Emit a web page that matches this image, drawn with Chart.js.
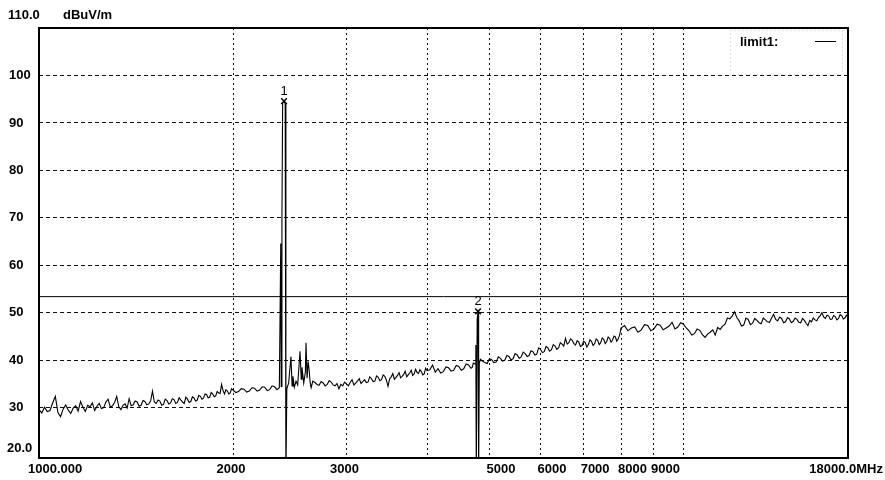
<!DOCTYPE html>
<html>
<head>
<meta charset="utf-8">
<script src="https://cdn.jsdelivr.net/npm/chart.js@4"></script>
<style>
html,body{margin:0;padding:0;background:#fff;}
#wrap{width:885px;height:480px;}
</style>
</head>
<body>
<div id="wrap"><canvas id="c" width="885" height="480"></canvas></div>
<script>
// ---- DATA ----
const unitLabel = "dBuV/m";
const yTickValues = [30, 40, 50, 60, 70, 80, 90, 100];
const yTopLabel = "110.0";
const yBottomLabel = "20.0";
const xGridValues = [2000, 3000, 4000, 5000, 6000, 7000, 8000, 9000, 10000];
const xTickValues = [2000, 3000, 5000, 6000, 7000, 8000, 9000];
const xStartLabel = "1000.000";
const xEndLabel = "18000.0";
const xUnit = "MHz";
const limitName = "limit1:";
const limitLevel = 53.4;
const markerNames = ["1", "2"];
const markerFreq = [2400, 4800];
const markerLevel = [94.6, 50.3];

// sweep 1000-2000 MHz  [freq MHz, level dBuV/m]
const sweepLow = [
 [1000,29.6],[1010,28.9],[1020,30.1],[1030,29.2],[1040,29.4],[1050,31.0],[1060,32.4],[1070,29.0],[1080,28.1],[1090,29.7],
 [1100,30.6],[1110,29.5],[1120,28.8],[1130,29.9],[1140,30.4],[1150,29.3],[1160,31.3],[1170,30.1],[1180,29.2],[1190,30.5],
 [1200,30.2],[1210,31.0],[1220,29.4],[1230,30.3],[1240,30.9],[1250,29.8],[1260,30.0],[1270,31.2],[1280,31.8],[1290,30.1],
 [1300,30.4],[1310,31.1],[1320,32.4],[1330,30.2],[1340,29.6],[1350,30.5],[1360,30.8],[1370,29.9],[1380,31.9],[1390,30.4],
 [1400,30.6],[1410,31.4],[1420,31.2],[1430,30.3],[1440,30.5],[1450,31.5],[1460,31.3],[1470,30.6],[1480,30.8],[1490,31.4],
 [1500,33.5],[1510,31.2],[1520,30.9],[1530,31.6],[1540,31.4],[1550,30.5],[1560,30.7],[1570,31.8],[1580,31.5],[1590,30.8],
 [1600,31.0],[1610,31.9],[1620,31.7],[1630,30.9],[1640,31.1],[1650,32.1],[1660,31.6],[1670,31.2],[1680,30.9],[1690,32.2],
 [1700,31.8],[1710,31.1],[1720,31.3],[1730,32.3],[1740,32.0],[1750,31.4],[1760,31.6],[1770,32.6],[1780,32.4],[1790,31.8],
 [1800,32.0],[1810,32.9],[1820,32.8],[1830,32.1],[1840,32.2],[1850,33.2],[1860,32.9],[1870,32.3],[1880,32.5],[1890,33.4],
 [1900,33.1],[1910,33.0],[1920,34.9],[1930,33.6],[1940,32.9],[1950,33.8],[1960,33.5],[1970,32.9],[1980,33.1],[1990,34.0],
 [2000,33.7]
];
// sweep 2000-4000 MHz (incl. 2.4 GHz carrier)
const sweepMid = [
 [2020,33.2],[2040,33.4],[2060,34.0],[2080,33.9],[2100,33.3],[2120,33.5],[2140,34.2],[2160,34.1],[2180,33.5],[2200,33.7],
 [2220,34.4],[2240,34.3],[2260,33.6],[2280,33.8],[2300,34.6],[2320,34.4],[2340,33.8],[2360,34.2],[2372,64.6],[2376,34.5],
 [2382,69.6],[2388,94.2],[2400,94.6],[2410,94.0],[2416,15.0],[2424,34.0],[2440,35.2],[2460,40.8],[2470,34.6],[2478,36.6],
 [2490,34.3],[2505,35.6],[2520,34.8],[2541,41.9],[2552,36.0],[2559,38.5],[2575,35.2],[2590,37.5],[2596,43.7],[2606,36.2],
 [2616,39.7],[2625,38.0],[2634,35.4],[2644,34.2],[2660,35.6],[2680,35.3],[2700,34.9],[2720,34.7],[2740,35.5],[2760,35.2],
 [2780,34.6],[2800,34.9],[2820,35.7],[2840,35.4],[2860,34.8],[2880,34.6],[2900,35.1],[2920,34.0],[2940,34.9],[2960,34.6],
 [2980,35.4],[3000,35.0],[3020,34.6],[3040,35.3],[3060,35.9],[3080,34.8],[3100,35.2],[3120,35.6],[3140,36.1],[3160,35.1],
 [3180,35.5],[3200,35.9],[3220,35.3],[3240,35.4],[3260,36.5],[3280,36.1],[3300,35.5],[3320,35.6],[3340,36.7],[3360,36.4],
 [3380,35.7],[3400,35.9],[3420,36.9],[3440,36.6],[3460,35.8],[3480,34.5],[3500,36.1],[3520,36.5],[3540,37.2],[3560,36.0],
 [3580,36.4],[3600,36.8],[3620,37.4],[3640,36.3],[3660,36.6],[3680,37.0],[3700,37.7],[3720,36.5],[3740,36.9],[3760,37.3],
 [3780,37.9],[3800,36.8],[3820,37.1],[3840,38.1],[3860,37.4],[3880,37.2],[3900,38.0],[3920,37.6],[3940,36.9],[3960,37.1],
 [3980,38.3],[4000,37.8]
];
// sweep 4000-8000 MHz (incl. 4.8 GHz harmonic)
const sweepHigh = [
 [4040,38.0],[4080,39.0],[4120,37.5],[4160,38.2],[4200,37.3],[4240,37.6],[4280,38.6],[4320,38.4],[4360,37.7],[4400,37.9],
 [4440,38.9],[4480,38.7],[4520,37.9],[4560,38.2],[4600,39.2],[4640,39.0],[4680,38.3],[4700,38.5],[4720,39.4],[4750,39.2],
 [4762,43.2],[4770,16.0],[4785,48.5],[4800,50.3],[4810,16.0],[4822,39.4],[4840,40.2],[4880,39.8],[4920,39.5],[4960,39.3],
 [5000,40.3],[5040,40.1],[5080,39.5],[5120,39.6],[5160,40.7],[5200,40.4],[5240,39.8],[5280,40.0],[5320,41.0],[5360,40.8],
 [5400,40.1],[5440,40.3],[5480,41.4],[5520,41.1],[5560,40.4],[5600,40.7],[5640,41.7],[5680,41.4],[5720,40.8],[5760,41.0],
 [5800,42.0],[5840,41.8],[5880,41.1],[5920,41.3],[5960,42.6],[6000,42.3],[6040,41.6],[6080,41.8],[6120,42.9],[6160,42.6],
 [6200,41.9],[6240,42.2],[6280,43.3],[6320,43.0],[6360,42.3],[6400,42.6],[6440,43.7],[6480,43.4],[6520,43.0],[6560,44.6],
 [6600,43.4],[6640,43.7],[6680,44.5],[6720,44.2],[6760,43.5],[6800,43.2],[6840,44.1],[6880,43.8],[6920,42.9],[6960,43.1],
 [7000,44.0],[7040,43.7],[7080,42.8],[7120,43.3],[7160,44.3],[7200,44.0],[7240,43.1],[7280,43.5],[7320,44.5],[7360,44.2],
 [7400,43.3],[7440,43.7],[7480,44.7],[7520,44.4],[7560,43.5],[7600,43.9],[7640,44.9],[7680,44.6],[7720,43.8],[7760,44.2],
 [7800,45.1],[7840,44.9],[7880,44.0],[7920,44.5],[7960,45.3],[8000,46.8]
];
// sweep 8000-18000 MHz
const sweepTop = [
 [8100,47.3],[8200,46.2],[8300,46.8],[8400,47.0],[8500,45.9],[8600,46.4],[8700,47.5],[8800,47.3],[8900,46.2],[9000,46.6],
 [9100,47.6],[9200,47.4],[9300,46.4],[9400,46.8],[9500,47.2],[9600,48.0],[9700,46.6],[9800,47.0],[9900,47.9],[10000,47.6],
 [10100,46.8],[10200,46.2],[10300,45.3],[10400,45.6],[10500,46.6],[10600,46.3],[10700,45.4],[10800,44.8],[10900,45.5],[11000,45.9],
 [11100,46.4],[11200,45.3],[11300,46.9],[11400,46.5],[11500,47.2],[11600,47.6],[11700,48.9],[11800,48.7],[11900,49.3],[12000,50.2],
 [12100,49.0],[12200,48.3],[12300,47.2],[12400,47.4],[12500,48.9],[12600,48.6],[12700,47.5],[12800,47.8],[12900,48.8],[13000,48.4],
 [13100,47.9],[13200,47.7],[13300,48.9],[13400,48.5],[13500,48.1],[13600,48.0],[13700,48.9],[13800,49.7],[13900,48.6],[14000,48.3],
 [14100,49.1],[14200,48.8],[14300,47.9],[14400,48.1],[14500,49.0],[14600,48.7],[14700,47.9],[14800,48.2],[14900,48.9],[15000,48.6],
 [15100,48.0],[15200,47.9],[15300,48.8],[15400,48.4],[15500,47.8],[15600,47.3],[15700,48.4],[15800,48.1],[15900,48.9],[16000,48.5],
 [16100,48.3],[16200,49.0],[16300,49.4],[16400,50.0],[16500,49.1],[16600,48.8],[16700,49.5],[16800,49.3],[16900,48.6],[17000,48.7],
 [17100,49.4],[17200,49.2],[17300,48.5],[17400,48.8],[17500,49.6],[17600,49.4],[17700,48.7],[17800,48.9],[17900,49.5],[18000,49.1]
];

// ---- CHART ----
const sweep = [...sweepLow, ...sweepMid, ...sweepHigh, ...sweepTop].map(p => ({x: p[0], y: p[1]}));
const limitPts = [{x: 1000, y: limitLevel}, {x: 18000, y: limitLevel}];
const markerPts = markerFreq.map((f, i) => ({x: f, y: markerLevel[i]}));

const FONT = 'bold 13px "Liberation Sans", Arial, sans-serif';

const overlay = {
  id: 'overlay',
  beforeDatasetsDraw(chart) {
    const ctx = chart.ctx;
    ctx.save();
    ctx.strokeStyle = '#c8c8c8';
    ctx.lineWidth = 1;
    ctx.setLineDash([1, 3]);
    ctx.strokeRect(730.5, 30.5, 112, 44);
    ctx.restore();
  },
  afterDraw(chart) {
    const {ctx, chartArea: a, scales: {x, y}} = chart;
    ctx.save();
    ctx.setLineDash([]);
    ctx.strokeStyle = '#000';
    ctx.lineWidth = 2;
    ctx.strokeRect(a.left, a.top, a.right - a.left, a.bottom - a.top);

    ctx.fillStyle = '#000';
    ctx.font = FONT;
    ctx.textAlign = 'left';
    ctx.textBaseline = 'middle';
    yTickValues.forEach(v => ctx.fillText(String(v), 9, y.getPixelForValue(v)));
    ctx.textBaseline = 'bottom';
    ctx.fillText(yBottomLabel, 7, y.getPixelForValue(20));
    ctx.textBaseline = 'middle';
    ctx.fillText(yTopLabel, 8, y.getPixelForValue(110) - 13);
    ctx.fillText(unitLabel, 63, y.getPixelForValue(110) - 13);

    const ly = a.bottom + 11;
    ctx.textAlign = 'left';
    ctx.fillText(xStartLabel, 28, ly);
    xTickValues.forEach(v => {
      const px = x.getPixelForValue(v);
      if (v < 4000) { ctx.textAlign = 'center'; ctx.fillText(String(v), px - 2, ly); }
      else { ctx.textAlign = 'left'; ctx.fillText(String(v), px - 3, ly); }
    });
    ctx.textAlign = 'right';
    ctx.fillText(xEndLabel + xUnit, 883, ly);

    ctx.font = '13px "Liberation Sans", Arial, sans-serif';
    ctx.textAlign = 'center';
    ctx.textBaseline = 'bottom';
    markerPts.forEach((p, i) => {
      ctx.fillText(markerNames[i], x.getPixelForValue(p.x), y.getPixelForValue(p.y) - 3);
    });

    ctx.font = FONT;
    ctx.textAlign = 'left';
    ctx.textBaseline = 'middle';
    ctx.fillText(limitName, 740, 42);
    ctx.beginPath();
    ctx.lineWidth = 1;
    ctx.moveTo(815, 41.5);
    ctx.lineTo(836, 41.5);
    ctx.stroke();
    ctx.restore();
  }
};

new Chart(document.getElementById('c'), {
  type: 'line',
  data: {
    datasets: [
      {data: sweep, borderColor: '#000', borderWidth: 1.1, pointRadius: 0, tension: 0, fill: false},
      {data: limitPts, borderColor: '#000', borderWidth: 1, pointRadius: 0, fill: false},
      {data: markerPts, showLine: false, pointStyle: 'crossRot', pointRadius: 4, pointBorderWidth: 1.5,
       pointBorderColor: '#000', pointBackgroundColor: '#000'}
    ]
  },
  options: {
    responsive: false,
    animation: false,
    devicePixelRatio: 1,
    layout: {padding: {left: 0, right: 37, top: 28, bottom: 0}},
    plugins: {legend: {display: false}, tooltip: {enabled: false}},
    scales: {
      x: {
        type: 'logarithmic', min: 1000, max: 18000,
        afterBuildTicks: s => { s.ticks = xGridValues.map(v => ({value: v})); },
        afterFit: s => { s.height = 22; },
        ticks: {display: false},
        border: {display: false, dash: [2, 3]},
        grid: {color: '#111', lineWidth: 1, drawTicks: false}
      },
      y: {
        type: 'linear', min: 19.4, max: 110,
        afterBuildTicks: s => { s.ticks = yTickValues.map(v => ({value: v})); },
        afterFit: s => { s.width = 39; },
        ticks: {display: false},
        border: {display: false, dash: [4, 3]},
        grid: {color: '#111', lineWidth: 1, drawTicks: false}
      }
    }
  },
  plugins: [overlay]
});
</script>
</body>
</html>
